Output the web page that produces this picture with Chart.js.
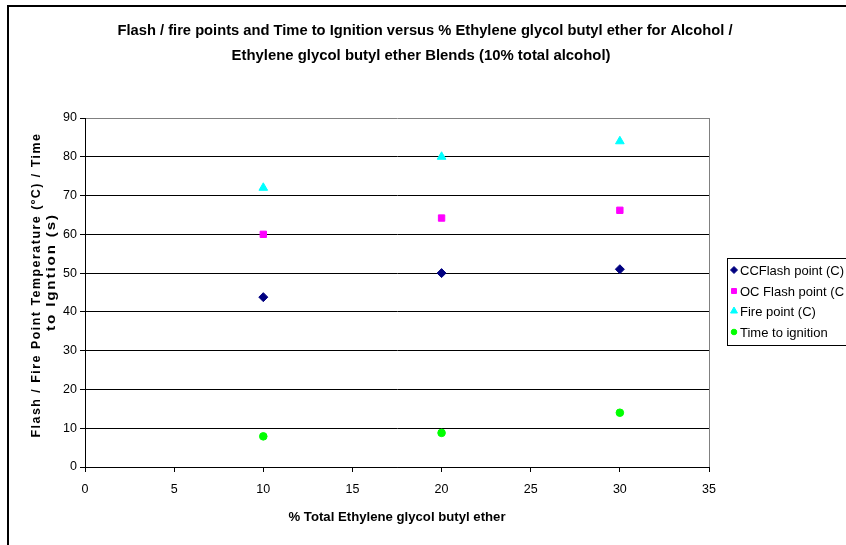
<!DOCTYPE html>
<html>
<head>
<meta charset="utf-8">
<script src="https://cdn.jsdelivr.net/npm/chart.js@4.4.1/dist/chart.umd.min.js"></script>
<style>
  body { margin: 0; background: #fff; }
  #wrap { position: relative; width: 846px; height: 545px; }
</style>
</head>
<body>
<div id="wrap"><canvas id="chart"></canvas></div>
<script>
// Du lieu doc tu hinh goc
const xValues = [10, 20, 30];
const ccFlash = [43.8, 50, 51];
const ocFlash = [60, 64.2, 66.2];
const firePoint = [72, 80, 84];
const timeIgnition = [7.9, 8.8, 14];
const seriesNames = ['CCFlash point (C)', 'OC Flash point (C', 'Fire point (C)', 'Time to ignition'];
const xTicks = [0, 5, 10, 15, 20, 25, 30, 35];
const yTicks = [0, 10, 20, 30, 40, 50, 60, 70, 80, 90];

const titleLines = [
    'Flash / fire points and Time to Ignition versus % Ethylene glycol butyl ether for Alcohol /',
    'Ethylene glycol butyl ether Blends (10% total alcohol)'
];
const xTitle = '% Total Ethylene glycol butyl ether';
const yTitleLines = ['Flash / Fire Point Temperature (ºC) / Time', 'to Igntion (s)'];

function toPoints(ys) {
    return xValues.map((x, i) => ({ x: x, y: ys[i] }));
}

const styles = [
    { color: '#000080', pointStyle: 'rectRot', radius: 4.5 },
    { color: '#FF00FF', pointStyle: 'rect', radius: 4.5 },
    { color: '#00FFFF', pointStyle: 'triangle', radius: 5 },
    { color: '#00FF00', pointStyle: 'circle', radius: 3.8 }
];
const seriesData = [ccFlash, ocFlash, firePoint, timeIgnition];

// Ve chu co can do rong
function fitText(ctx, text, cx, cy, font, width) {
    ctx.save();
    ctx.font = font;
    const w = ctx.measureText(text).width;
    ctx.translate(cx, cy);
    ctx.scale(width / w, 1);
    ctx.textAlign = 'center';
    ctx.textBaseline = 'middle';
    ctx.fillText(text, 0, 0);
    ctx.restore();
}

const decor = {
    id: 'decor',
    afterDraw(chart) {
        const ctx = chart.ctx;
        const a = chart.chartArea;
        ctx.save();
        // khung ngoai
        ctx.strokeStyle = '#000';
        ctx.lineWidth = 2;
        ctx.beginPath();
        ctx.moveTo(8, 545);
        ctx.lineTo(8, 6);
        ctx.lineTo(846, 6);
        ctx.stroke();

        // vien phai cua vung ve
        ctx.strokeStyle = '#808080';
        ctx.lineWidth = 1;
        ctx.beginPath();
        ctx.moveTo(Math.round(a.right) + 0.5, a.top);
        ctx.lineTo(Math.round(a.right) + 0.5, a.bottom);
        ctx.stroke();

        ctx.fillStyle = '#000';
        fitText(ctx, titleLines[0], 425, 31, 'bold 15.5px "Liberation Sans", Arial', 615);
        fitText(ctx, titleLines[1], 421, 56, 'bold 15.5px "Liberation Sans", Arial', 379);
        fitText(ctx, xTitle, 397, 518, 'bold 12.5px "Liberation Sans", Arial', 217);

        // tieu de truc y
        ctx.save();
        ctx.translate(37, 285);
        ctx.rotate(-Math.PI / 2);
        ctx.letterSpacing = '1.5px';
        fitText(ctx, yTitleLines[0], 0, 0, 'bold 12.5px "Liberation Sans", Arial', 305);
        ctx.restore();
        ctx.save();
        ctx.translate(52, 272);
        ctx.rotate(-Math.PI / 2);
        ctx.letterSpacing = '1.5px';
        fitText(ctx, yTitleLines[1], 0, 0, 'bold 12.5px "Liberation Sans", Arial', 118);
        ctx.restore();

        // chu giai
        ctx.strokeStyle = '#000';
        ctx.lineWidth = 1;
        ctx.strokeRect(727.5, 258.5, 130, 87);
        ctx.font = '13px "Liberation Sans", Arial';
        ctx.textAlign = 'left';
        ctx.textBaseline = 'middle';
        const rows = [270, 291, 311, 332];
        seriesNames.forEach((name, i) => {
            const st = styles[i];
            ctx.fillStyle = st.color;
            ctx.strokeStyle = st.color;
            Chart.helpers.drawPoint(ctx, { pointStyle: st.pointStyle, radius: st.radius - 1, borderWidth: 1, rotation: 0 }, 734, rows[i]);
            ctx.fillStyle = '#000';
            ctx.fillText(name, 740, rows[i] + 1);
        });
        ctx.restore();
    }
};

const datasets = seriesNames.map((name, i) => ({
    label: name,
    data: toPoints(seriesData[i]),
    pointStyle: styles[i].pointStyle,
    pointRadius: styles[i].radius,
    pointBackgroundColor: styles[i].color,
    pointBorderColor: styles[i].color,
    pointBorderWidth: 1,
    showLine: false
}));

new Chart(document.getElementById('chart'), {
    type: 'scatter',
    data: { datasets: datasets },
    plugins: [decor],
    options: {
        responsive: true,
        maintainAspectRatio: false,
        animation: false,
        layout: { padding: { top: 118, right: 137, left: 0, bottom: 0 } },
        plugins: {
            legend: { display: false },
            title: { display: false },
            tooltip: { enabled: false }
        },
        scales: {
            x: {
                type: 'linear',
                min: 0, max: 35,
                afterFit: s => { s.height = 78; },
                afterBuildTicks: s => { s.ticks = xTicks.map(v => ({ value: v })); },
                grid: { drawOnChartArea: false, color: '#000', tickLength: 5 },
                border: { color: '#000' },
                ticks: { color: '#000', padding: 10, font: { family: '"Liberation Sans", Arial', size: 12.5 }, maxRotation: 0 }
            },
            y: {
                min: 0, max: 90,
                afterFit: s => { s.width = 85; },
                afterBuildTicks: s => { s.ticks = yTicks.map(v => ({ value: v })); },
                grid: { color: c => (c.tick && c.tick.value === 90 ? '#808080' : '#000'), tickColor: '#000', tickLength: 5 },
                border: { color: '#000' },
                ticks: { color: '#000', padding: 3, font: { family: '"Liberation Sans", Arial', size: 12.5 } }
            }
        }
    }
});
</script>
</body>
</html>
